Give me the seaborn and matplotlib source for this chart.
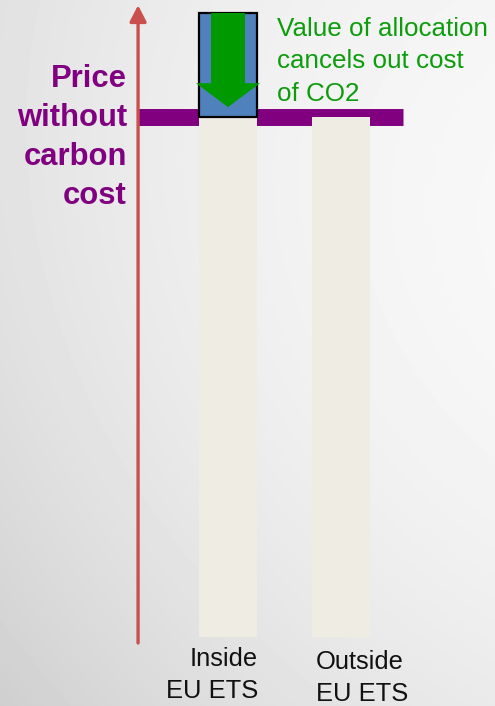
import numpy as np
import matplotlib
matplotlib.use("Agg")
import matplotlib.pyplot as plt
import seaborn as sns

# --- data -------------------------------------------------------------
categories = ["Inside\nEU ETS", "Outside\nEU ETS"]
base_price = [100, 100]          # price without carbon cost
allocation_value = 20            # value of free allocation = cost of CO2

price_label = "Price\nwithout\ncarbon\ncost"
allocation_label = "Value of allocation\ncancels out cost\nof CO2"

# --- colours ----------------------------------------------------------
BEIGE = "#efede3"
BLUE = "#4f81bd"
GREEN = "#009900"
TEXT_GREEN = "#0c9c0c"
PURPLE = "#800080"
RED = "#c9504d"

sns.set_theme(style="white")
plt.rcParams["font.family"] = ["Liberation Sans", "DejaVu Sans"]

W, H, DPI = 495, 706, 100
fig = plt.figure(figsize=(W / DPI, H / DPI), dpi=DPI)

# soft grey backdrop: darker lower left, lightest at the right middle.
# A smooth quadratic surface through a few grey levels.
gx = np.array([0, 250, 495] * 3, dtype=float)
gy = np.repeat([0.0, 330.0, 706.0], 3)
gv = np.array([0.894, 0.930, 0.955,
               0.863, 0.940, 0.978,
               0.816, 0.878, 0.910])
A = np.column_stack([np.ones_like(gx), gx, gy, gx**2, gy**2, gx * gy])
coef, *_ = np.linalg.lstsq(A, gv, rcond=None)
yy, xx = np.mgrid[0:H, 0:W].astype(float)
shade = (coef[0] + coef[1] * xx + coef[2] * yy + coef[3] * xx**2
         + coef[4] * yy**2 + coef[5] * xx * yy)

bg = fig.add_axes([0, 0, 1, 1])
bg.imshow(np.clip(shade, 0, 1), cmap="gray", vmin=0, vmax=1, aspect="auto",
          extent=[0, 1, 0, 1], interpolation="bilinear")
bg.set_axis_off()

ax = fig.add_axes([0, 0, 1, 1])
ax.patch.set_alpha(0)

bar_w = 0.513
sns.barplot(x=categories, y=base_price, color=BEIGE, saturation=1,
            width=bar_w, ax=ax, zorder=3, linewidth=0)

ax.set_xlim(-2.018, 2.363)
ax.set_ylim(-13.27, 122.5)
ax.set_axis_off()

axis_x = -0.796

# price level line behind the bars
ax.plot([axis_x, 1.549], [base_price[0], base_price[0]], color=PURPLE,
        lw=12.2, solid_capstyle="butt", zorder=2)

# allocation box stacked on the inside bar
top = base_price[0] + allocation_value
ax.bar(0, allocation_value, bottom=base_price[0], width=bar_w, color=BLUE,
       edgecolor="black", linewidth=1.6, zorder=4)

# downward arrow: allocation offsets the carbon cost
tip = base_price[0] + allocation_value * 0.095
ax.arrow(0, top, 0, tip - top, width=0.30, head_width=0.566,
         head_length=4.6, length_includes_head=True, color=GREEN,
         linewidth=0, zorder=5)

# vertical price axis
ax.annotate("", xy=(axis_x, 121.5), xytext=(axis_x, -1.15),
            arrowprops=dict(arrowstyle="-|>,head_length=0.7,head_width=0.36",
                            color=RED, lw=2.4, mutation_scale=14,
                            shrinkA=0, shrinkB=0), zorder=6)

# text
fig.text(127 / W, 1 - 64 / H, price_label, ha="right", va="top",
         multialignment="right", color=PURPLE, fontsize=22.3,
         fontweight="bold", linespacing=1.39)
fig.text(277 / W, 1 - 17 / H, allocation_label, ha="left", va="top",
         color=TEXT_GREEN, fontsize=18.7, linespacing=1.44)
fig.text(258 / W, 1 - 647 / H, categories[0], ha="right", va="top",
         multialignment="right", color="#111111", fontsize=18.4,
         linespacing=1.40)
fig.text(316 / W, 1 - 650 / H, categories[1], ha="left", va="top",
         multialignment="left", color="#111111", fontsize=18.4,
         linespacing=1.40)

fig.savefig("out.png", dpi=DPI)
